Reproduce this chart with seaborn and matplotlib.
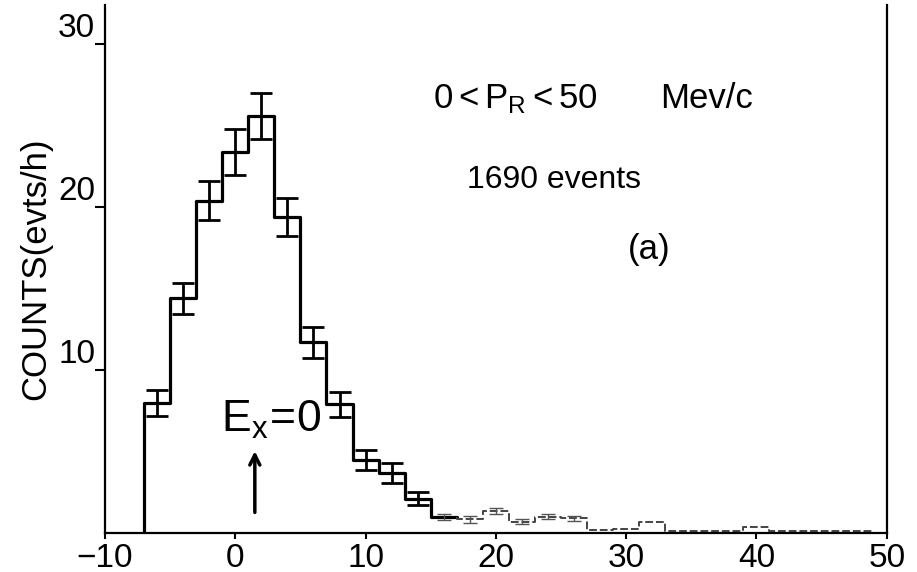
import numpy as np
import matplotlib
matplotlib.use("Agg")
import matplotlib.pyplot as plt
import seaborn as sns

# histogram: 2 MeV bins starting at -7
bin_edges = [-7, -5, -3, -1, 1, 3, 5, 7, 9, 11, 13, 15, 17, 19, 21, 23, 25,
             27, 29, 31, 33, 35, 37, 39, 41, 43, 45, 47, 49]
counts = [8.0, 14.4, 20.4, 23.4, 25.6, 19.4, 11.7, 7.9, 4.5, 3.7, 2.1, 1.0,
          0.85, 1.35, 0.7, 1.0, 0.9, 0.2, 0.25, 0.7, 0.1, 0.1, 0.1, 0.4,
          0.1, 0.1, 0.1, 0.15]
errors = [0.8, 0.95, 1.2, 1.4, 1.4, 1.15, 0.95, 0.75, 0.6, 0.6, 0.4, 0.2,
          0.2, 0.2, 0.15, 0.15, 0.15]
n_main = 12  # bins drawn with the solid line, the rest is the faint tail

x_ticks = [-10, 0, 10, 20, 30, 40, 50]
y_ticks = [10, 20, 30]

sns.set_style("white")
plt.rcParams["font.family"] = ["Liberation Sans", "DejaVu Sans"]
plt.rcParams["mathtext.fontset"] = "custom"
plt.rcParams["mathtext.rm"] = "Liberation Sans"
plt.rcParams["mathtext.it"] = "Liberation Sans:italic"
for key in ["text.color", "axes.labelcolor", "xtick.color", "ytick.color"]:
    plt.rcParams[key] = "black"


def step_points(edges, heights, start):
    xs = [edges[0]] + list(edges)
    ys = [start] + list(heights) + [heights[-1]]
    return xs, ys


fig = plt.figure(figsize=(9.17, 5.72), dpi=100)
ax = fig.add_axes([0.1145, 0.068, 0.8525, 0.923])

mx, my = step_points(bin_edges[:n_main + 1], counts[:n_main], 0)
sns.lineplot(x=mx, y=my, drawstyle="steps-post", estimator=None, sort=False,
             color="black", linewidth=2.3, ax=ax)

tx, ty = step_points(bin_edges[n_main:], counts[n_main:], counts[n_main - 1])
sns.lineplot(x=tx, y=ty, drawstyle="steps-post", estimator=None, sort=False,
             color="#444444", linewidth=1.4, linestyle=(0, (4, 1.5)), ax=ax)

centers = [(bin_edges[i] + bin_edges[i + 1]) / 2 for i in range(len(counts))]
n_err = 11
ax.errorbar(centers[:n_err], counts[:n_err], yerr=errors[:n_err], fmt="none",
            ecolor="black", elinewidth=2.0, capsize=8, capthick=2.0)
ax.errorbar(centers[n_err:len(errors)], counts[n_err:len(errors)],
            yerr=errors[n_err:], fmt="none", ecolor="#555555",
            elinewidth=1.0, capsize=5, capthick=1.0)

ax.set_xlim(-9.7, 49.4)
ax.set_ylim(0, 32.4)
ax.set_xticks(x_ticks)
ax.set_xticklabels(["\u221210" if t < 0 else str(t) for t in x_ticks])
ax.set_yticks(y_ticks)
ax.set_yticklabels([str(t) for t in y_ticks])
for lab in ax.get_yticklabels():
    lab.set_va("bottom")

ax.tick_params(axis="x", direction="out", length=4, width=1.5, pad=3,
               labelsize=24, bottom=True)
ax.tick_params(axis="y", direction="out", length=7, width=1.5, pad=0,
               labelsize=24, left=True)
ax.set_ylabel("COUNTS(evts/h)", fontsize=25, labelpad=4)
ax.set_xlabel("")

ax.spines["top"].set_visible(False)
for side in ["left", "right", "bottom"]:
    ax.spines[side].set_color("black")
    ax.spines[side].set_linewidth(1.6)

ax.text(15.2, 26.1, r"$\mathrm{0<P_R<50}$", fontsize=25, ha="left",
        va="baseline")
ax.text(32.6, 26.1, "Mev/c", fontsize=25, ha="left", va="baseline")
ax.text(17.8, 21.2, "1690 events", fontsize=23, ha="left", va="baseline")
ax.text(30.1, 17.4, "(a)", fontsize=25, ha="left", va="center")
ax.text(-1.1, 6.2, r"$\mathrm{E_x\!=\!0}$", fontsize=32, ha="left",
        va="baseline")
ax.annotate("", xy=(1.5, 5.2), xytext=(1.5, 1.1),
            arrowprops=dict(arrowstyle="->", color="black", lw=2.5,
                            mutation_scale=18))

fig.savefig("out.png", dpi=100)
